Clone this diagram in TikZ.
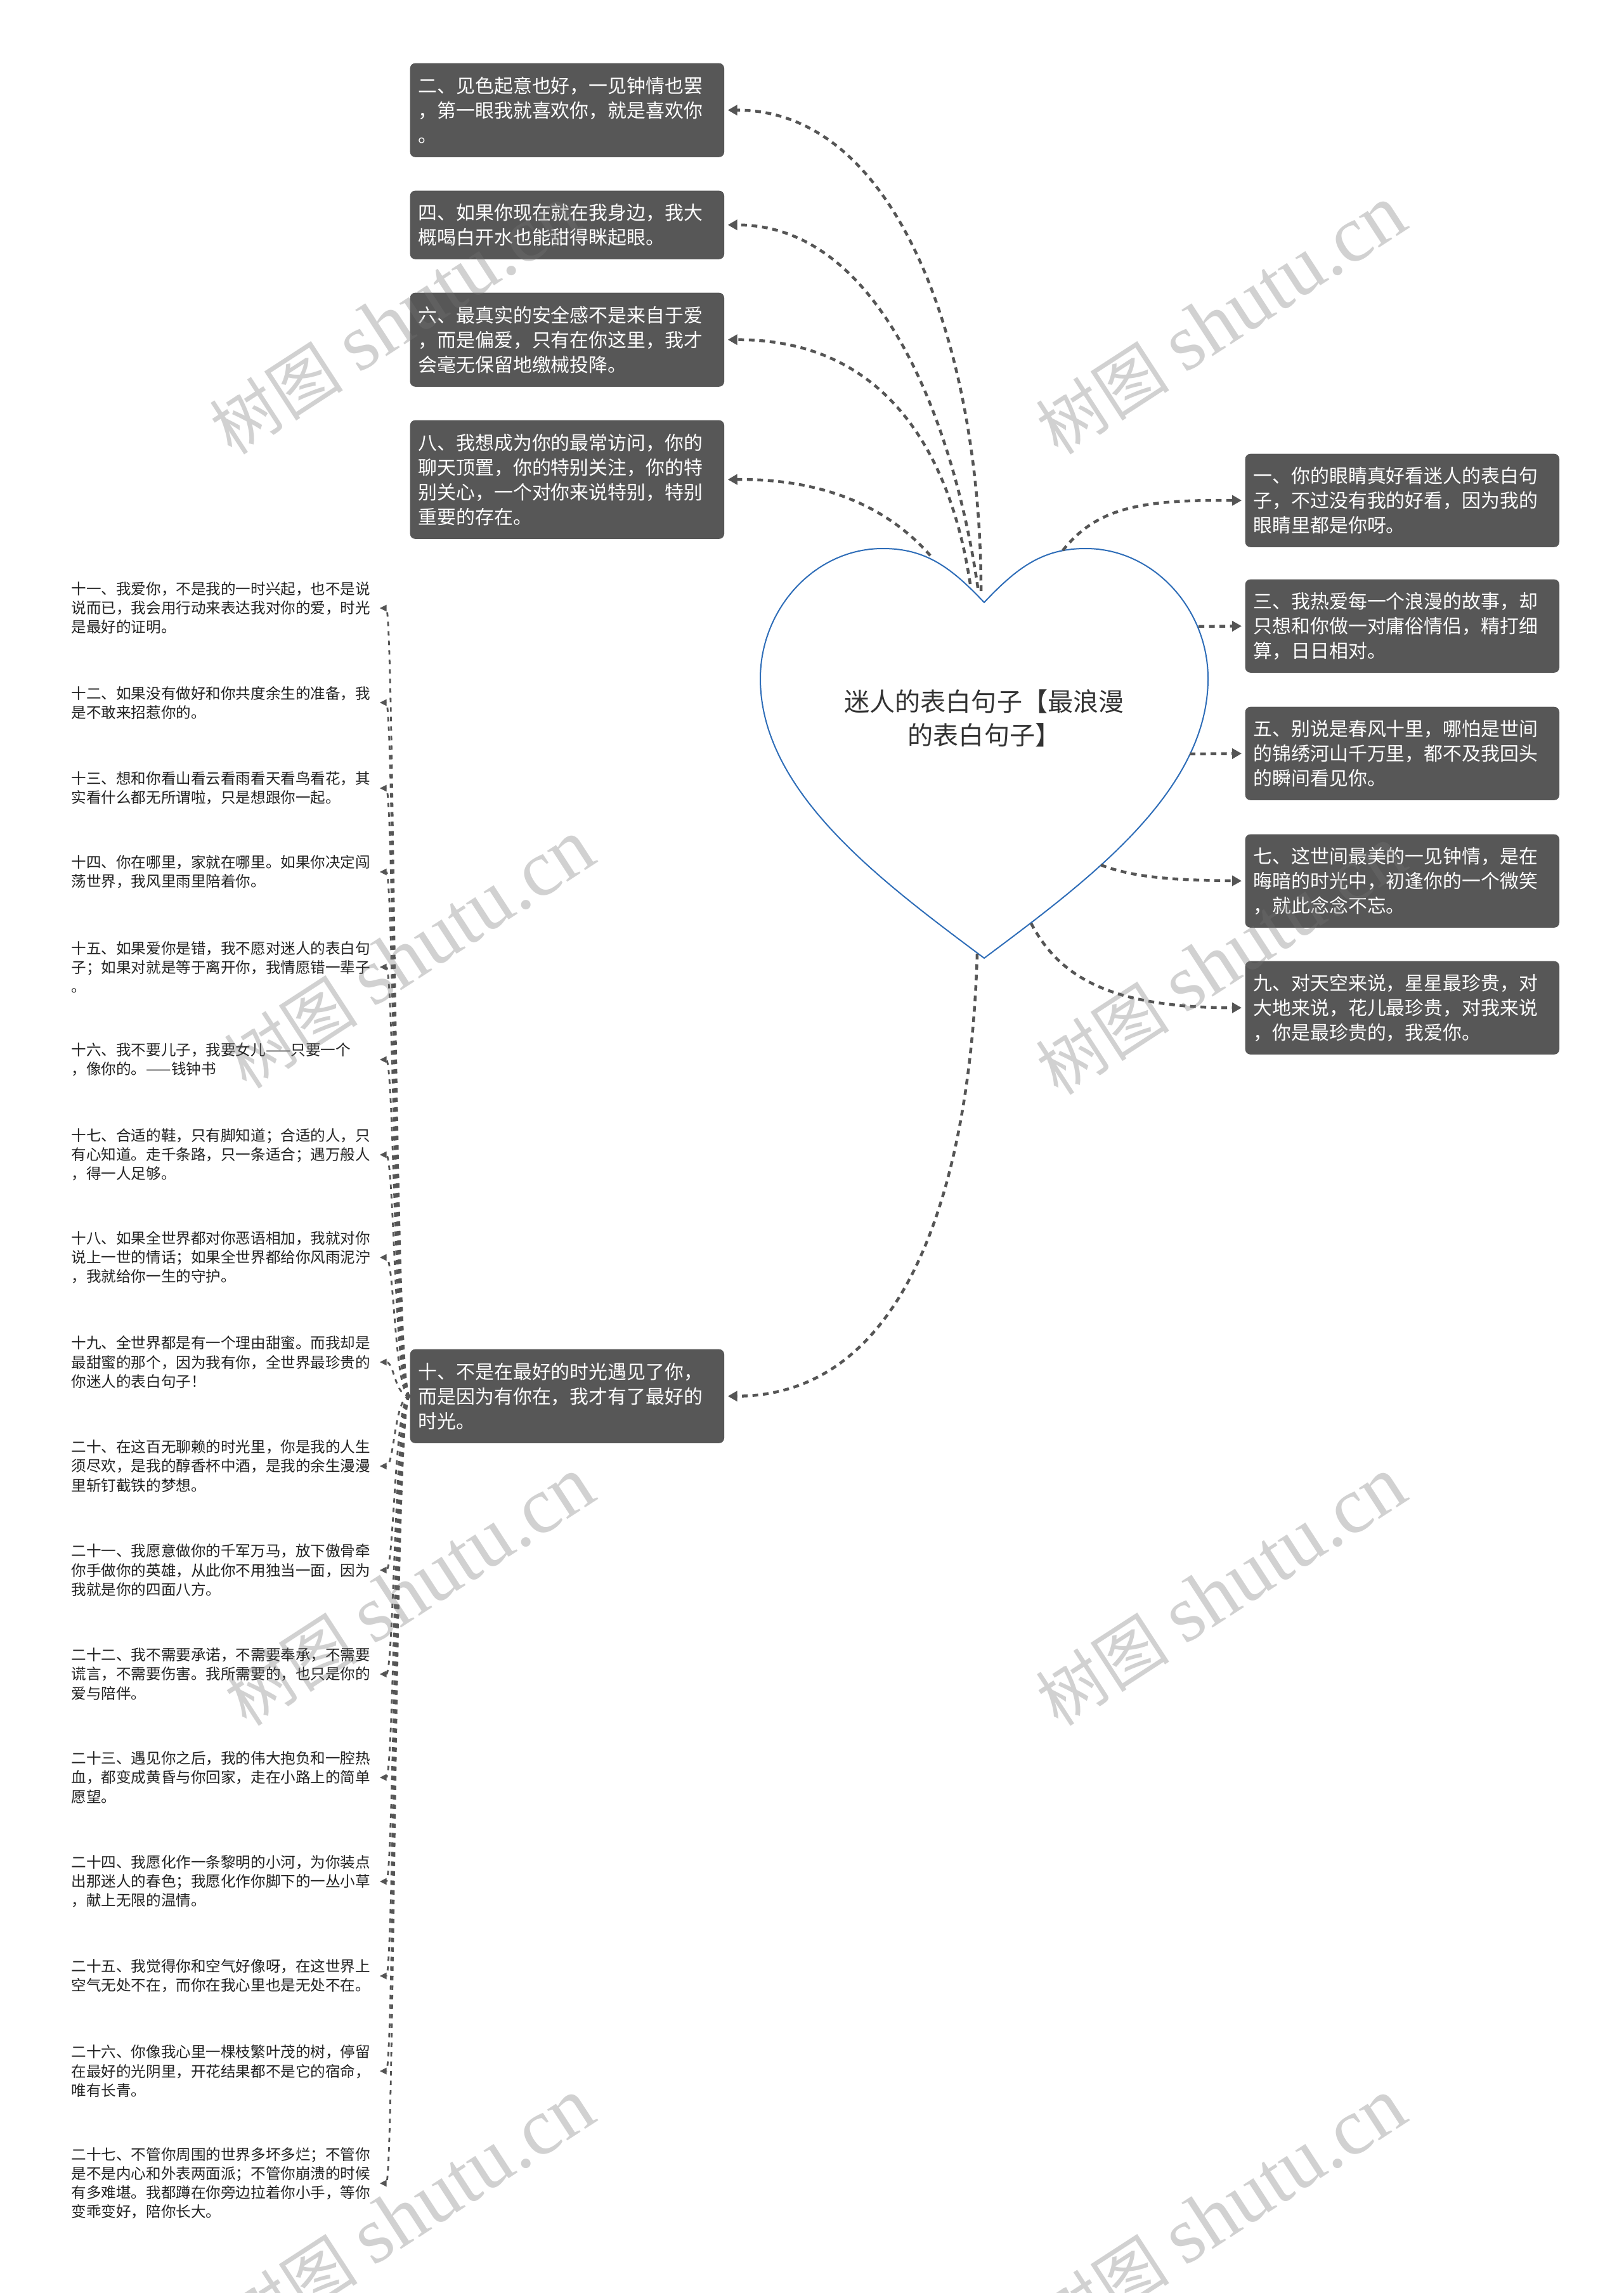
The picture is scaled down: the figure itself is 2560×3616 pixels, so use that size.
\documentclass[tikz,border=0pt]{standalone}
\usepackage{fontspec}
\setmainfont{Noto Sans CJK SC}
\newfontfamily\wmlatin{Liberation Serif}
\usetikzlibrary{arrows.meta}
\definecolor{boxgray}{HTML}{575757}
\definecolor{linegray}{HTML}{555555}
\definecolor{heartblue}{HTML}{2E6DB8}
\definecolor{txtdark}{HTML}{222222}
\definecolor{rootdark}{HTML}{333333}
\tikzset{
  mbox/.style={fill=boxgray, rounded corners=0.08cm, text=white, align=left,
    text width=4.69cm, inner xsep=0.13cm, inner ysep=0pt, anchor=north west,
    font=\fontsize{8.5pt}{11.1pt}\selectfont},
  ltext/.style={text=txtdark, align=left, text width=4.72cm, inner xsep=0.13cm,
    inner ysep=0pt, anchor=west, font=\fontsize{6.7pt}{8.55pt}\selectfont},
  rootlabel/.style={text=rootdark, align=center, inner sep=0pt,
    font=\fontsize{11.4pt}{15.1pt}\selectfont},
  conn/.style={draw=linegray, line width=0.045cm, dash pattern=on 0.09cm off 0.075cm,
    -{Triangle[length=0.15cm,width=0.16cm]}, shorten >=0.05cm},
  sconn/.style={draw=linegray, line width=0.028cm, dash pattern=on 0.07cm off 0.08cm,
    -{Triangle[length=0.11cm,width=0.1cm]}},
  wm/.style={rotate=33, text=black!55, text opacity=0.32, inner sep=0pt},
  heartline/.style={draw=heartblue, line width=0.02cm}
}
\newcommand{\wmtext}{{\fontsize{30pt}{30pt}\selectfont 树图\hspace{0.25em}{\wmlatin\fontsize{36pt}{36pt}\selectfont shutu.cn}}}
\begin{document}
\begin{tikzpicture}[x=0.01cm,y=-0.01cm]
\fill[white] (0,0) rectangle (2560,3616);
\useasboundingbox (0,0) rectangle (2560,3616);

% heart
\draw[heartline] (1552,950) .. controls (1500,895) and (1460,865) .. (1392,865)
  .. controls (1285,865) and (1199,960) .. (1199,1070)
  .. controls (1199,1250) and (1392,1391) .. (1552,1511)
  .. controls (1712,1391) and (1905,1250) .. (1905,1070)
  .. controls (1905,960) and (1819,865) .. (1712,865)
  .. controls (1644,865) and (1604,895) .. (1552,950) -- cycle;
\node[rootlabel] (root) at (1552,1133) {迷人的表白句子【最浪漫\\的表白句子】};

% anchor points on the heart
\coordinate (h1) at (1676,868);
\coordinate (h2) at (1547,932);
\coordinate (h3) at (1890,988);
\coordinate (h4) at (1542,927);
\coordinate (h5) at (1876,1189);
\coordinate (h6) at (1530,921);
\coordinate (h7) at (1736,1364);
\coordinate (h8) at (1467,876);
\coordinate (h9) at (1626,1456);
\coordinate (h10) at (1541,1504);

% left boxes
\node[mbox, minimum height=1.48cm] (b2) at (646,99) {二、见色起意也好，一见钟情也罢\\，第一眼我就喜欢你，就是喜欢你\\。};
\node[mbox, minimum height=1.08cm] (b4) at (646,300) {四、如果你现在就在我身边，我大\\概喝白开水也能甜得眯起眼。};
\node[mbox, minimum height=1.48cm] (b6) at (646,461) {六、最真实的安全感不是来自于爱\\，而是偏爱，只有在你这里，我才\\会毫无保留地缴械投降。};
\node[mbox, minimum height=1.87cm] (b8) at (646,662) {八、我想成为你的最常访问，你的\\聊天顶置，你的特别关注，你的特\\别关心，一个对你来说特别，特别\\重要的存在。};
\node[mbox, minimum height=1.48cm] (b10) at (646,2127) {十、不是在最好的时光遇见了你，\\而是因为有你在，我才有了最好的\\时光。};

% right boxes
\node[mbox, minimum height=1.47cm] (b1) at (1963,715) {一、你的眼睛真好看迷人的表白句\\子，不过没有我的好看，因为我的\\眼睛里都是你呀。};
\node[mbox, minimum height=1.47cm] (b3) at (1963,913) {三、我热爱每一个浪漫的故事，却\\只想和你做一对庸俗情侣，精打细\\算，日日相对。};
\node[mbox, minimum height=1.47cm] (b5) at (1963,1114) {五、别说是春风十里，哪怕是世间\\的锦绣河山千万里，都不及我回头\\的瞬间看见你。};
\node[mbox, minimum height=1.47cm] (b7) at (1963,1315) {七、这世间最美的一见钟情，是在\\晦暗的时光中，初逢你的一个微笑\\，就此念念不忘。};
\node[mbox, minimum height=1.47cm] (b9) at (1963,1515) {九、对天空来说，星星最珍贵，对\\大地来说，花儿最珍贵，对我来说\\，你是最珍贵的，我爱你。};

% connectors from heart
\draw[conn] (h2) .. controls (1547,560) and (1420,173) .. (b2.east);
\draw[conn] (h4) .. controls (1510,700) and (1400,354) .. (b4.east);
\draw[conn] (h6) .. controls (1500,720) and (1400,535) .. (b6.east);
\draw[conn] (h8) .. controls (1400,800) and (1300,755) .. (b8.east);
\draw[conn] (h1) .. controls (1730,800) and (1800,788) .. (b1.west);
\draw[conn] (h3) -- (b3.west);
\draw[conn] (h5) -- (b5.west);
\draw[conn] (h7) .. controls (1790,1385) and (1860,1388) .. (b7.west);
\draw[conn] (h9) .. controls (1670,1540) and (1750,1589) .. (b9.west);
\draw[conn] (h10) .. controls (1530,1870) and (1430,2201) .. (b10.east);

% left column texts
\node[ltext] (t11) at (99,959) {十一、我爱你，不是我的一时兴起，也不是说\\说而已，我会用行动来表达我对你的爱，时光\\是最好的证明。};
\node[ltext] (t12) at (99,1108) {十二、如果没有做好和你共度余生的准备，我\\是不敢来招惹你的。};
\node[ltext] (t13) at (99,1243) {十三、想和你看山看云看雨看天看鸟看花，其\\实看什么都无所谓啦，只是想跟你一起。};
\node[ltext] (t14) at (99,1375) {十四、你在哪里，家就在哪里。如果你决定闯\\荡世界，我风里雨里陪着你。};
\node[ltext] (t15) at (99,1525) {十五、如果爱你是错，我不愿对迷人的表白句\\子；如果对就是等于离开你，我情愿错一辈子\\。};
\node[ltext] (t16) at (99,1671) {十六、我不要儿子，我要女儿——只要一个\\，像你的。——钱钟书};
\node[ltext] (t17) at (99,1821) {十七、合适的鞋，只有脚知道；合适的人，只\\有心知道。走千条路，只一条适合；遇万般人\\，得一人足够。};
\node[ltext] (t18) at (99,1983) {十八、如果全世界都对你恶语相加，我就对你\\说上一世的情话；如果全世界都给你风雨泥泞\\，我就给你一生的守护。};
\node[ltext] (t19) at (99,2148) {十九、全世界都是有一个理由甜蜜。而我却是\\最甜蜜的那个，因为我有你，全世界最珍贵的\\你迷人的表白句子！};
\node[ltext] (t20) at (99,2312) {二十、在这百无聊赖的时光里，你是我的人生\\须尽欢，是我的醇香杯中酒，是我的余生漫漫\\里斩钉截铁的梦想。};
\node[ltext] (t21) at (99,2476) {二十一、我愿意做你的千军万马，放下傲骨牵\\你手做你的英雄，从此你不用独当一面，因为\\我就是你的四面八方。};
\node[ltext] (t22) at (99,2640) {二十二、我不需要承诺，不需要奉承，不需要\\谎言，不需要伤害。我所需要的，也只是你的\\爱与陪伴。};
\node[ltext] (t23) at (99,2803) {二十三、遇见你之后，我的伟大抱负和一腔热\\血，都变成黄昏与你回家，走在小路上的简单\\愿望。};
\node[ltext] (t24) at (99,2967) {二十四、我愿化作一条黎明的小河，为你装点\\出那迷人的春色；我愿化作你脚下的一丛小草\\，献上无限的温情。};
\node[ltext] (t25) at (99,3116) {二十五、我觉得你和空气好像呀，在这世界上\\空气无处不在，而你在我心里也是无处不在。};
\node[ltext] (t26) at (99,3266) {二十六、你像我心里一棵枝繁叶茂的树，停留\\在最好的光阴里，开花结果都不是它的宿命，\\唯有长青。};
\node[ltext] (t27) at (99,3443) {二十七、不管你周围的世界多坏多烂；不管你\\是不是内心和外表两面派；不管你崩溃的时候\\有多难堪。我都蹲在你旁边拉着你小手，等你\\变乖变好，陪你长大。};

\coordinate (trunk) at (622,2201);
\foreach \n in {11,...,27}{
  \draw[sconn] (b10.west) .. controls (trunk) and (trunk |- t\n.east) .. (t\n.east);
}

% watermarks
\node[wm] (w1) at (623,505) {\wmtext};
\node[wm] (w2) at (1926,505) {\wmtext};
\node[wm] (w3) at (646,1505) {\wmtext};
\node[wm] (w4) at (1926,1515) {\wmtext};
\node[wm] (w5) at (646,2510) {\wmtext};
\node[wm] (w6) at (1926,2510) {\wmtext};
\node[wm] (w7) at (646,3490) {\wmtext};
\node[wm] (w8) at (1926,3490) {\wmtext};
\end{tikzpicture}
\end{document}
